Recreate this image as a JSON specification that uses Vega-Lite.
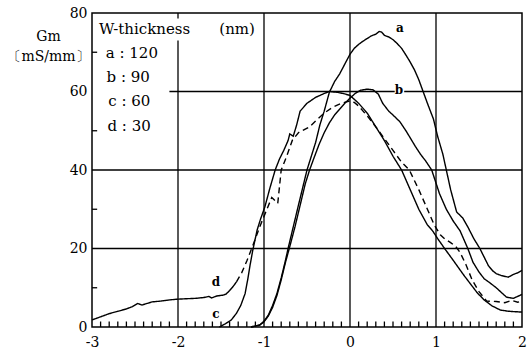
{
  "$schema": "https://vega.github.io/schema/vega-lite/v6.json",
  "width": 430,
  "height": 314,
  "autosize": {"type": "none"},
  "padding": {"left": 92, "top": 13, "right": 8, "bottom": 26},
  "background": "white",
  "config": {"view": {"stroke": "black", "strokeWidth": 1.5}, "font": "DejaVu Serif"},
  "datasets": {
    "grid": [
      {"x": -2, "x2": -2, "y": 0, "y2": 73},
      {"x": -1, "x2": -1, "y": 0, "y2": 80},
      {"x": 0, "x2": 0, "y": 0, "y2": 80},
      {"x": 1, "x2": 1, "y": 0, "y2": 80},
      {"x": -3, "x2": 2, "y": 20, "y2": 20},
      {"x": -3, "x2": 2, "y": 40, "y2": 40},
      {"x": -2.1, "x2": 0.52, "y": 60, "y2": 60},
      {"x": 0.63, "x2": 2, "y": 60, "y2": 60}
    ],
    "ticks": [
      {"x": -2.9, "x2": -2.9, "y": 0, "y2": 1.4},
      {"x": -2.8, "x2": -2.8, "y": 0, "y2": 1.4},
      {"x": -2.7, "x2": -2.7, "y": 0, "y2": 1.4},
      {"x": -2.6, "x2": -2.6, "y": 0, "y2": 1.4},
      {"x": -2.5, "x2": -2.5, "y": 0, "y2": 1.4},
      {"x": -2.4, "x2": -2.4, "y": 0, "y2": 1.4},
      {"x": -2.3, "x2": -2.3, "y": 0, "y2": 1.4},
      {"x": -2.2, "x2": -2.2, "y": 0, "y2": 1.4},
      {"x": -2.1, "x2": -2.1, "y": 0, "y2": 1.4},
      {"x": -1.9, "x2": -1.9, "y": 0, "y2": 1.4},
      {"x": -1.8, "x2": -1.8, "y": 0, "y2": 1.4},
      {"x": -1.7, "x2": -1.7, "y": 0, "y2": 1.4},
      {"x": -1.6, "x2": -1.6, "y": 0, "y2": 1.4},
      {"x": -1.5, "x2": -1.5, "y": 0, "y2": 1.4},
      {"x": -1.4, "x2": -1.4, "y": 0, "y2": 1.4},
      {"x": -1.3, "x2": -1.3, "y": 0, "y2": 1.4},
      {"x": -1.2, "x2": -1.2, "y": 0, "y2": 1.4},
      {"x": -1.1, "x2": -1.1, "y": 0, "y2": 1.4},
      {"x": -0.9, "x2": -0.9, "y": 0, "y2": 1.4},
      {"x": -0.8, "x2": -0.8, "y": 0, "y2": 1.4},
      {"x": -0.7, "x2": -0.7, "y": 0, "y2": 1.4},
      {"x": -0.6, "x2": -0.6, "y": 0, "y2": 1.4},
      {"x": -0.5, "x2": -0.5, "y": 0, "y2": 1.4},
      {"x": -0.4, "x2": -0.4, "y": 0, "y2": 1.4},
      {"x": -0.3, "x2": -0.3, "y": 0, "y2": 1.4},
      {"x": -0.2, "x2": -0.2, "y": 0, "y2": 1.4},
      {"x": -0.1, "x2": -0.1, "y": 0, "y2": 1.4},
      {"x": 0.1, "x2": 0.1, "y": 0, "y2": 1.4},
      {"x": 0.2, "x2": 0.2, "y": 0, "y2": 1.4},
      {"x": 0.3, "x2": 0.3, "y": 0, "y2": 1.4},
      {"x": 0.4, "x2": 0.4, "y": 0, "y2": 1.4},
      {"x": 0.5, "x2": 0.5, "y": 0, "y2": 1.4},
      {"x": 0.6, "x2": 0.6, "y": 0, "y2": 1.4},
      {"x": 0.7, "x2": 0.7, "y": 0, "y2": 1.4},
      {"x": 0.8, "x2": 0.8, "y": 0, "y2": 1.4},
      {"x": 0.9, "x2": 0.9, "y": 0, "y2": 1.4},
      {"x": 1.1, "x2": 1.1, "y": 0, "y2": 1.4},
      {"x": 1.2, "x2": 1.2, "y": 0, "y2": 1.4},
      {"x": 1.3, "x2": 1.3, "y": 0, "y2": 1.4},
      {"x": 1.4, "x2": 1.4, "y": 0, "y2": 1.4},
      {"x": 1.5, "x2": 1.5, "y": 0, "y2": 1.4},
      {"x": 1.6, "x2": 1.6, "y": 0, "y2": 1.4},
      {"x": 1.7, "x2": 1.7, "y": 0, "y2": 1.4},
      {"x": 1.8, "x2": 1.8, "y": 0, "y2": 1.4},
      {"x": 1.9, "x2": 1.9, "y": 0, "y2": 1.4},
      {"x": -3, "x2": -2.94, "y": 10, "y2": 10},
      {"x": -3, "x2": -2.94, "y": 30, "y2": 30},
      {"x": -3, "x2": -2.94, "y": 50, "y2": 50},
      {"x": -3, "x2": -2.94, "y": 70, "y2": 70},
      {"x": -2, "x2": -2, "y": 78.6, "y2": 80}
    ],
    "legend": [
      {"x": -2.92, "y": 75.9, "t": "W-thickness"},
      {"x": -1.52, "y": 75.9, "t": "(nm)"},
      {"x": -2.84, "y": 69.8, "t": "a : 120"},
      {"x": -2.83, "y": 63.7, "t": "b : 90"},
      {"x": -2.81, "y": 57.5, "t": "c : 60"},
      {"x": -2.82, "y": 51.3, "t": "d : 30"}
    ],
    "tags": [
      {"x": 0.58, "y": 76.2, "t": "a"},
      {"x": 0.57, "y": 60.4, "t": "b"},
      {"x": -1.56, "y": 11.5, "t": "d"},
      {"x": -1.56, "y": 3.3, "t": "c"}
    ],
    "curves": [
      {"seg": "a", "style": "solid", "x": -1.15, "y": 0},
      {"seg": "a", "style": "solid", "x": -1.05, "y": 0.5},
      {"seg": "a", "style": "solid", "x": -1.0, "y": 1.5},
      {"seg": "a", "style": "solid", "x": -0.95, "y": 3},
      {"seg": "a", "style": "solid", "x": -0.9, "y": 5.5},
      {"seg": "a", "style": "solid", "x": -0.85, "y": 8.5},
      {"seg": "a", "style": "solid", "x": -0.8, "y": 12.5},
      {"seg": "a", "style": "solid", "x": -0.75, "y": 17},
      {"seg": "a", "style": "solid", "x": -0.72, "y": 20},
      {"seg": "a", "style": "solid", "x": -0.66, "y": 25.5},
      {"seg": "a", "style": "solid", "x": -0.6, "y": 31},
      {"seg": "a", "style": "solid", "x": -0.55, "y": 35.5},
      {"seg": "a", "style": "solid", "x": -0.5, "y": 40},
      {"seg": "a", "style": "solid", "x": -0.45, "y": 43.5},
      {"seg": "a", "style": "solid", "x": -0.4, "y": 47},
      {"seg": "a", "style": "solid", "x": -0.35, "y": 51.5},
      {"seg": "a", "style": "solid", "x": -0.3, "y": 55},
      {"seg": "a", "style": "solid", "x": -0.24, "y": 59.8},
      {"seg": "a", "style": "solid", "x": -0.18, "y": 62.5},
      {"seg": "a", "style": "solid", "x": -0.12, "y": 64.5},
      {"seg": "a", "style": "solid", "x": -0.06, "y": 67},
      {"seg": "a", "style": "solid", "x": 0, "y": 69.5},
      {"seg": "a", "style": "solid", "x": 0.05, "y": 71},
      {"seg": "a", "style": "solid", "x": 0.1, "y": 72},
      {"seg": "a", "style": "solid", "x": 0.15, "y": 72.8},
      {"seg": "a", "style": "solid", "x": 0.2, "y": 73.5},
      {"seg": "a", "style": "solid", "x": 0.25, "y": 74.2},
      {"seg": "a", "style": "solid", "x": 0.3, "y": 74.6},
      {"seg": "a", "style": "solid", "x": 0.34, "y": 75.3},
      {"seg": "a", "style": "solid", "x": 0.37, "y": 75.1},
      {"seg": "a", "style": "solid", "x": 0.4, "y": 74.3},
      {"seg": "a", "style": "solid", "x": 0.45, "y": 73.9},
      {"seg": "a", "style": "solid", "x": 0.5, "y": 73.2},
      {"seg": "a", "style": "solid", "x": 0.55, "y": 72.2},
      {"seg": "a", "style": "solid", "x": 0.6, "y": 71},
      {"seg": "a", "style": "solid", "x": 0.65, "y": 69.3},
      {"seg": "a", "style": "solid", "x": 0.7, "y": 67.5},
      {"seg": "a", "style": "solid", "x": 0.75, "y": 65.5},
      {"seg": "a", "style": "solid", "x": 0.8, "y": 63},
      {"seg": "a", "style": "solid", "x": 0.85, "y": 60},
      {"seg": "a", "style": "solid", "x": 0.9, "y": 57},
      {"seg": "a", "style": "solid", "x": 0.97, "y": 53},
      {"seg": "a", "style": "solid", "x": 1.02, "y": 48.5},
      {"seg": "a", "style": "solid", "x": 1.08, "y": 44},
      {"seg": "a", "style": "solid", "x": 1.12, "y": 40},
      {"seg": "a", "style": "solid", "x": 1.17, "y": 35},
      {"seg": "a", "style": "solid", "x": 1.24, "y": 29.3},
      {"seg": "a", "style": "solid", "x": 1.31, "y": 27.8},
      {"seg": "a", "style": "solid", "x": 1.37, "y": 25.5},
      {"seg": "a", "style": "solid", "x": 1.44, "y": 22.5},
      {"seg": "a", "style": "solid", "x": 1.51, "y": 20},
      {"seg": "a", "style": "solid", "x": 1.56, "y": 17.8},
      {"seg": "a", "style": "solid", "x": 1.61, "y": 15.6},
      {"seg": "a", "style": "solid", "x": 1.66, "y": 14.3},
      {"seg": "a", "style": "solid", "x": 1.7, "y": 13.6},
      {"seg": "a", "style": "solid", "x": 1.76, "y": 13.1},
      {"seg": "a", "style": "solid", "x": 1.84, "y": 12.7},
      {"seg": "a", "style": "solid", "x": 1.9, "y": 13.4},
      {"seg": "a", "style": "solid", "x": 1.95, "y": 13.8},
      {"seg": "a", "style": "solid", "x": 2.0, "y": 14.4},

      {"seg": "b", "style": "solid", "x": -1.15, "y": 0},
      {"seg": "b", "style": "solid", "x": -1.05, "y": 0.5},
      {"seg": "b", "style": "solid", "x": -1.0, "y": 1.3},
      {"seg": "b", "style": "solid", "x": -0.95, "y": 2.8},
      {"seg": "b", "style": "solid", "x": -0.9, "y": 5},
      {"seg": "b", "style": "solid", "x": -0.85, "y": 8},
      {"seg": "b", "style": "solid", "x": -0.8, "y": 12},
      {"seg": "b", "style": "solid", "x": -0.75, "y": 16.5},
      {"seg": "b", "style": "solid", "x": -0.7, "y": 20.5},
      {"seg": "b", "style": "solid", "x": -0.64, "y": 25.5},
      {"seg": "b", "style": "solid", "x": -0.58, "y": 31},
      {"seg": "b", "style": "solid", "x": -0.52, "y": 36.5},
      {"seg": "b", "style": "solid", "x": -0.47, "y": 40},
      {"seg": "b", "style": "solid", "x": -0.42, "y": 43},
      {"seg": "b", "style": "solid", "x": -0.36, "y": 46.5},
      {"seg": "b", "style": "solid", "x": -0.3, "y": 49.5},
      {"seg": "b", "style": "solid", "x": -0.24, "y": 52},
      {"seg": "b", "style": "solid", "x": -0.18, "y": 54},
      {"seg": "b", "style": "solid", "x": -0.12, "y": 55.5},
      {"seg": "b", "style": "solid", "x": -0.06, "y": 57},
      {"seg": "b", "style": "solid", "x": 0, "y": 58.3},
      {"seg": "b", "style": "solid", "x": 0.06, "y": 59.5},
      {"seg": "b", "style": "solid", "x": 0.12, "y": 60.3},
      {"seg": "b", "style": "solid", "x": 0.2, "y": 60.6},
      {"seg": "b", "style": "solid", "x": 0.27, "y": 60.4},
      {"seg": "b", "style": "solid", "x": 0.33, "y": 59.3},
      {"seg": "b", "style": "solid", "x": 0.38, "y": 57},
      {"seg": "b", "style": "solid", "x": 0.45, "y": 55},
      {"seg": "b", "style": "solid", "x": 0.5, "y": 54},
      {"seg": "b", "style": "solid", "x": 0.58, "y": 52.3},
      {"seg": "b", "style": "solid", "x": 0.65, "y": 50},
      {"seg": "b", "style": "solid", "x": 0.7, "y": 48.2},
      {"seg": "b", "style": "solid", "x": 0.76, "y": 46},
      {"seg": "b", "style": "solid", "x": 0.82, "y": 44},
      {"seg": "b", "style": "solid", "x": 0.88, "y": 42.3},
      {"seg": "b", "style": "solid", "x": 0.95, "y": 40},
      {"seg": "b", "style": "solid", "x": 1.04, "y": 34},
      {"seg": "b", "style": "solid", "x": 1.12, "y": 30},
      {"seg": "b", "style": "solid", "x": 1.2, "y": 27},
      {"seg": "b", "style": "solid", "x": 1.28, "y": 24.5},
      {"seg": "b", "style": "solid", "x": 1.37, "y": 20},
      {"seg": "b", "style": "solid", "x": 1.43, "y": 16.5},
      {"seg": "b", "style": "solid", "x": 1.5, "y": 14},
      {"seg": "b", "style": "solid", "x": 1.56, "y": 12.3},
      {"seg": "b", "style": "solid", "x": 1.63, "y": 11.2},
      {"seg": "b", "style": "solid", "x": 1.7, "y": 10},
      {"seg": "b", "style": "solid", "x": 1.76, "y": 8.8},
      {"seg": "b", "style": "solid", "x": 1.82, "y": 7.6},
      {"seg": "b", "style": "solid", "x": 1.9, "y": 7.3},
      {"seg": "b", "style": "solid", "x": 1.95, "y": 7.8},
      {"seg": "b", "style": "solid", "x": 2.0, "y": 8.3},

      {"seg": "c", "style": "solid", "x": -1.52, "y": 0},
      {"seg": "c", "style": "solid", "x": -1.45, "y": 0.8},
      {"seg": "c", "style": "solid", "x": -1.38, "y": 1.8},
      {"seg": "c", "style": "solid", "x": -1.32, "y": 3.5},
      {"seg": "c", "style": "solid", "x": -1.27, "y": 5.5},
      {"seg": "c", "style": "solid", "x": -1.22, "y": 8.5},
      {"seg": "c", "style": "solid", "x": -1.19, "y": 12},
      {"seg": "c", "style": "solid", "x": -1.16, "y": 16},
      {"seg": "c", "style": "solid", "x": -1.13, "y": 19.6},
      {"seg": "c", "style": "solid", "x": -1.08, "y": 24.7},
      {"seg": "c", "style": "solid", "x": -1.04, "y": 27.5},
      {"seg": "c", "style": "solid", "x": -0.99, "y": 30.6},
      {"seg": "c", "style": "solid", "x": -0.93, "y": 35.5},
      {"seg": "c", "style": "solid", "x": -0.87, "y": 40},
      {"seg": "c", "style": "solid", "x": -0.82, "y": 42.8},
      {"seg": "c", "style": "solid", "x": -0.77, "y": 45},
      {"seg": "c", "style": "solid", "x": -0.72, "y": 47.5},
      {"seg": "c", "style": "solid", "x": -0.7, "y": 49.2},
      {"seg": "c", "style": "solid", "x": -0.66, "y": 48.6},
      {"seg": "c", "style": "solid", "x": -0.62, "y": 51.5},
      {"seg": "c", "style": "solid", "x": -0.58, "y": 55},
      {"seg": "c", "style": "solid", "x": -0.5, "y": 57},
      {"seg": "c", "style": "solid", "x": -0.4, "y": 58.5},
      {"seg": "c", "style": "solid", "x": -0.3, "y": 59.5},
      {"seg": "c", "style": "solid", "x": -0.24, "y": 60},
      {"seg": "c", "style": "solid", "x": -0.15, "y": 59.8},
      {"seg": "c", "style": "solid", "x": -0.08, "y": 59.5},
      {"seg": "c", "style": "solid", "x": 0, "y": 59},
      {"seg": "c", "style": "solid", "x": 0.05, "y": 58},
      {"seg": "c", "style": "solid", "x": 0.1, "y": 57},
      {"seg": "c", "style": "solid", "x": 0.2, "y": 54.5},
      {"seg": "c", "style": "solid", "x": 0.3, "y": 51},
      {"seg": "c", "style": "solid", "x": 0.4, "y": 47.5},
      {"seg": "c", "style": "solid", "x": 0.5, "y": 43.5},
      {"seg": "c", "style": "solid", "x": 0.6, "y": 40},
      {"seg": "c", "style": "solid", "x": 0.7, "y": 35},
      {"seg": "c", "style": "solid", "x": 0.8, "y": 30},
      {"seg": "c", "style": "solid", "x": 0.9, "y": 26},
      {"seg": "c", "style": "solid", "x": 0.96, "y": 24.5},
      {"seg": "c", "style": "solid", "x": 1.02, "y": 22.5},
      {"seg": "c", "style": "solid", "x": 1.1, "y": 20},
      {"seg": "c", "style": "solid", "x": 1.2, "y": 17},
      {"seg": "c", "style": "solid", "x": 1.32, "y": 13.3},
      {"seg": "c", "style": "solid", "x": 1.4, "y": 11},
      {"seg": "c", "style": "solid", "x": 1.48, "y": 8.7},
      {"seg": "c", "style": "solid", "x": 1.56, "y": 6.9},
      {"seg": "c", "style": "solid", "x": 1.65, "y": 5.4},
      {"seg": "c", "style": "solid", "x": 1.75, "y": 4.3},
      {"seg": "c", "style": "solid", "x": 1.85, "y": 4},
      {"seg": "c", "style": "solid", "x": 1.92, "y": 3.9},
      {"seg": "c", "style": "solid", "x": 2.0, "y": 3.8},

      {"seg": "d1", "style": "solid", "x": -3.0, "y": 1.8},
      {"seg": "d1", "style": "solid", "x": -2.9, "y": 2.6},
      {"seg": "d1", "style": "solid", "x": -2.8, "y": 3.4},
      {"seg": "d1", "style": "solid", "x": -2.7, "y": 4},
      {"seg": "d1", "style": "solid", "x": -2.6, "y": 4.6},
      {"seg": "d1", "style": "solid", "x": -2.53, "y": 5.2},
      {"seg": "d1", "style": "solid", "x": -2.47, "y": 6},
      {"seg": "d1", "style": "solid", "x": -2.42, "y": 5.6},
      {"seg": "d1", "style": "solid", "x": -2.36, "y": 6},
      {"seg": "d1", "style": "solid", "x": -2.3, "y": 6.4},
      {"seg": "d1", "style": "solid", "x": -2.2, "y": 6.6},
      {"seg": "d1", "style": "solid", "x": -2.1, "y": 6.9},
      {"seg": "d1", "style": "solid", "x": -2.0, "y": 7.1},
      {"seg": "d1", "style": "solid", "x": -1.9, "y": 7.2},
      {"seg": "d1", "style": "solid", "x": -1.8, "y": 7.3},
      {"seg": "d1", "style": "solid", "x": -1.7, "y": 7.5},
      {"seg": "d1", "style": "solid", "x": -1.64, "y": 7.8},
      {"seg": "d1", "style": "solid", "x": -1.61, "y": 7.4},
      {"seg": "d1", "style": "solid", "x": -1.55, "y": 7.9},
      {"seg": "d1", "style": "solid", "x": -1.48, "y": 8.1},
      {"seg": "d1", "style": "solid", "x": -1.44, "y": 8.4},
      {"seg": "d1", "style": "solid", "x": -1.4, "y": 9.3},
      {"seg": "d1", "style": "solid", "x": -1.36, "y": 10.3},
      {"seg": "d1", "style": "solid", "x": -1.32, "y": 11.5},

      {"seg": "d2", "style": "dashed", "x": -1.32, "y": 11.5},
      {"seg": "d2", "style": "dashed", "x": -1.26, "y": 13.8},
      {"seg": "d2", "style": "dashed", "x": -1.2, "y": 16.8},
      {"seg": "d2", "style": "dashed", "x": -1.15, "y": 19.6},
      {"seg": "d2", "style": "dashed", "x": -1.1, "y": 22.5},
      {"seg": "d2", "style": "dashed", "x": -1.05, "y": 25.5},
      {"seg": "d2", "style": "dashed", "x": -0.97, "y": 29.8},
      {"seg": "d2", "style": "dashed", "x": -0.91, "y": 33},
      {"seg": "d2", "style": "dashed", "x": -0.84, "y": 31.5},
      {"seg": "d2", "style": "dashed", "x": -0.8, "y": 40},
      {"seg": "d2", "style": "dashed", "x": -0.74, "y": 43.3},
      {"seg": "d2", "style": "dashed", "x": -0.67, "y": 47.6},
      {"seg": "d2", "style": "dashed", "x": -0.6, "y": 49.5},
      {"seg": "d2", "style": "dashed", "x": -0.47, "y": 51},
      {"seg": "d2", "style": "dashed", "x": -0.4, "y": 52.5},
      {"seg": "d2", "style": "dashed", "x": -0.3, "y": 54.5},
      {"seg": "d2", "style": "dashed", "x": -0.2, "y": 56},
      {"seg": "d2", "style": "dashed", "x": -0.1, "y": 57},
      {"seg": "d2", "style": "dashed", "x": 0, "y": 57.6},
      {"seg": "d2", "style": "dashed", "x": 0.05, "y": 57.2},
      {"seg": "d2", "style": "dashed", "x": 0.1, "y": 56.3},
      {"seg": "d2", "style": "dashed", "x": 0.2, "y": 53.8},
      {"seg": "d2", "style": "dashed", "x": 0.3, "y": 51},
      {"seg": "d2", "style": "dashed", "x": 0.4, "y": 48},
      {"seg": "d2", "style": "dashed", "x": 0.5, "y": 45},
      {"seg": "d2", "style": "dashed", "x": 0.6, "y": 42},
      {"seg": "d2", "style": "dashed", "x": 0.69, "y": 40},
      {"seg": "d2", "style": "dashed", "x": 0.8, "y": 35},
      {"seg": "d2", "style": "dashed", "x": 0.9, "y": 30},
      {"seg": "d2", "style": "dashed", "x": 0.98, "y": 26},
      {"seg": "d2", "style": "dashed", "x": 1.05, "y": 23.5},
      {"seg": "d2", "style": "dashed", "x": 1.1, "y": 22.5},
      {"seg": "d2", "style": "dashed", "x": 1.17, "y": 21.5},
      {"seg": "d2", "style": "dashed", "x": 1.23, "y": 20.5},
      {"seg": "d2", "style": "dashed", "x": 1.28, "y": 19},
      {"seg": "d2", "style": "dashed", "x": 1.35, "y": 15.8},
      {"seg": "d2", "style": "dashed", "x": 1.42, "y": 12},
      {"seg": "d2", "style": "dashed", "x": 1.5, "y": 9},
      {"seg": "d2", "style": "dashed", "x": 1.59, "y": 6.6},
      {"seg": "d2", "style": "dashed", "x": 1.7, "y": 6.5},
      {"seg": "d2", "style": "dashed", "x": 1.8, "y": 6.2},
      {"seg": "d2", "style": "dashed", "x": 1.88, "y": 6.8},
      {"seg": "d2", "style": "dashed", "x": 1.95, "y": 6.3},
      {"seg": "d2", "style": "dashed", "x": 2.0, "y": 6.6}
    ]
  },
  "encoding": {
    "x": {
      "field": "x",
      "type": "quantitative",
      "scale": {"domain": [-3, 2], "nice": false, "zero": false},
      "axis": {
        "title": null,
        "values": [-3, -2, -1, 0, 1, 2],
        "labelExpr": "'' + datum.value",
        "labelOverlap": false,
        "labelFlush": false,
        "grid": false,
        "domain": false,
        "ticks": false,
        "labelPadding": 8,
        "labelFont": "DejaVu Serif",
        "labelFontSize": 14,
        "labelColor": "black"
      }
    },
    "y": {
      "field": "y",
      "type": "quantitative",
      "scale": {"domain": [0, 80], "nice": false},
      "axis": {
        "title": ["Gm", "〔mS/mm〕"],
        "titleAngle": 0,
        "titleAlign": "center",
        "titleBaseline": "top",
        "titleX": -44,
        "titleY": 16,
        "titleFont": "DejaVu Serif",
        "titleFontSize": 14,
        "titleFontWeight": "normal",
        "titleColor": "black",
        "titleLineHeight": 20,
        "values": [0, 20, 40, 60, 80],
        "labelExpr": "'' + datum.value",
        "labelOverlap": false,
        "labelFlush": false,
        "grid": false,
        "domain": false,
        "ticks": false,
        "labelPadding": 5,
        "labelFont": "DejaVu Serif",
        "labelFontSize": 14,
        "labelColor": "black"
      }
    }
  },
  "layer": [
    {
      "data": {"name": "grid"},
      "mark": {"type": "rule", "color": "black", "strokeWidth": 1.3},
      "encoding": {"x2": {"field": "x2"}, "y2": {"field": "y2"}}
    },
    {
      "data": {"name": "ticks"},
      "mark": {"type": "rule", "color": "black", "strokeWidth": 1.3},
      "encoding": {"x2": {"field": "x2"}, "y2": {"field": "y2"}}
    },
    {
      "data": {"name": "curves"},
      "mark": {"type": "line", "color": "black", "strokeWidth": 1.4, "interpolate": "linear"},
      "encoding": {
        "detail": {"field": "seg", "type": "nominal"},
        "strokeDash": {
          "field": "style",
          "type": "nominal",
          "scale": {"domain": ["solid", "dashed"], "range": [[1, 0], [6, 4]]},
          "legend": null
        }
      }
    },
    {
      "data": {"name": "legend"},
      "mark": {"type": "text", "align": "left", "baseline": "middle", "font": "DejaVu Serif", "fontSize": 15, "color": "black"},
      "encoding": {"text": {"field": "t"}}
    },
    {
      "data": {"name": "tags"},
      "mark": {"type": "text", "align": "center", "baseline": "middle", "font": "DejaVu Serif", "fontSize": 12, "fontWeight": "bold", "color": "black"},
      "encoding": {"text": {"field": "t"}}
    }
  ]
}
